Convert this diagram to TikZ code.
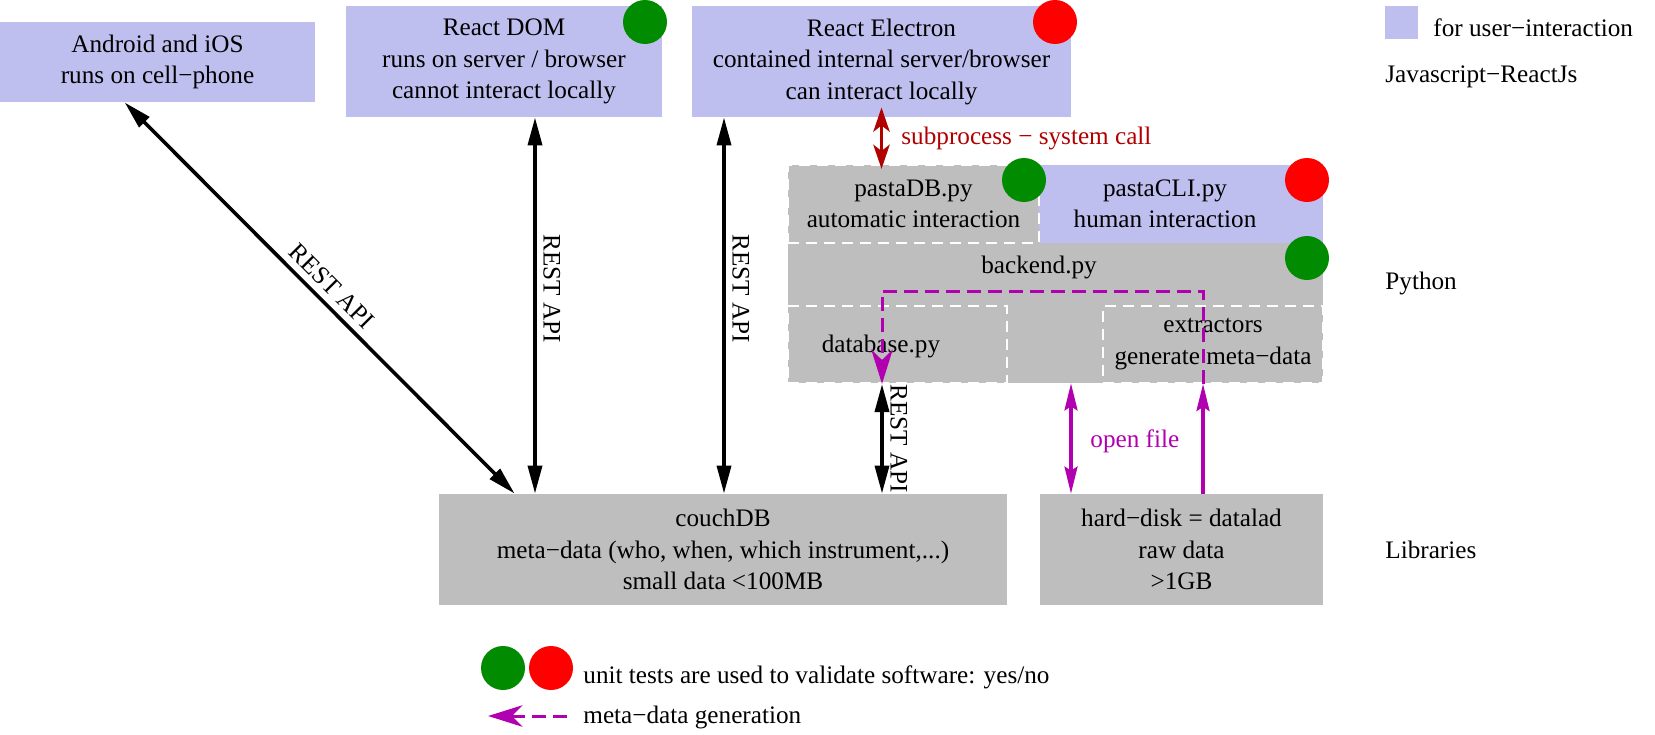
\documentclass[tikz,border=0pt]{standalone}
\usepackage{fontspec}
\setmainfont{Liberation Serif}
\usetikzlibrary{arrows.meta,calc}
\definecolor{userblue}{RGB}{191,191,239}
\definecolor{boxgray}{RGB}{190,190,190}
\definecolor{okgreen}{RGB}{0,139,0}
\definecolor{failred}{RGB}{255,0,0}
\definecolor{callred}{RGB}{176,0,0}
\definecolor{metamag}{RGB}{176,0,176}
\begin{document}
\begin{tikzpicture}[x=0.5pt,y=-0.5pt,
  every node/.append style={font=\fontsize{12.6}{15.75}\selectfont},
  userbox/.style={fill=userblue, draw=none, inner sep=0, align=center},
  graybox/.style={fill=boxgray, draw=none, inner sep=0, align=center},
  dashbox/.style={graybox, draw=white, line width=1pt, dash pattern=on 5.5pt off 3.5pt},
  okdot/.style={circle, fill=okgreen, inner sep=0, minimum size=22pt},
  faildot/.style={circle, fill=failred, inner sep=0, minimum size=22pt},
  txt/.style={anchor=west, inner sep=0},
  restarrow/.style={line width=1.8pt, {Triangle[length=14pt,width=7pt]}-{Triangle[length=14pt,width=7pt]}},
  callarrow/.style={draw=callred, line width=1.8pt, {Stealth[length=12pt,width=8pt,inset=3pt,fill=white,line width=2.2pt]}-{Stealth[length=12pt,width=8pt,inset=3pt,fill=white,line width=2.2pt]}},
  filearrow/.style={draw=metamag, line width=1.6pt, {Stealth[length=13.5pt,width=6.5pt,inset=2pt]}-{Stealth[length=13.5pt,width=6.5pt,inset=2pt]}},
  extarrow/.style={draw=metamag, line width=1.6pt, -{Stealth[length=13.5pt,width=6.5pt,inset=2pt]}},
  metaflow/.style={draw=metamag, line width=1.5pt, dash pattern=on 7pt off 3.5pt, -{Stealth[length=17pt,width=10.5pt,inset=5pt,fill=white,line width=2.6pt]}}
]
\useasboundingbox (0,0) rectangle (1655,734);

% JavaScript layer
\node[userbox, minimum width=157.5pt, minimum height=40pt] (android) at (157.5,62) {Android and iOS\\runs on cell−phone};
\node[userbox, minimum width=158pt, minimum height=55.5pt] (dom) at (504,61.5) {React DOM\\runs on server / browser\\cannot interact locally};
\node[userbox, minimum width=189.5pt, minimum height=55.5pt] (electron) at (881.5,61.5) {React Electron\\contained internal server/browser\\can interact locally};
\node[okdot] (domdot) at (645,22) {};
\node[faildot] (eldot) at (1055,22) {};

% Python layer
\node[graybox, minimum width=267.5pt, minimum height=70pt] (backend) at (1055.5,313) {};
\node[inner sep=0] (backendtxt) at (1039,267) {backend.py};
\node[userbox, minimum width=142pt, minimum height=39pt] (pastacli) at (1181,204) {};
\node[align=center, inner sep=0] (pastaclitxt) at (1165,204) {pastaCLI.py\\human interaction};
\node[dashbox, minimum width=125.5pt, minimum height=39pt] (pastadb) at (913.5,204) {pastaDB.py\\automatic interaction};
\node[dashbox, minimum width=109.5pt, minimum height=38.5pt] (database) at (897.5,344.5) {};
\node[inner sep=0] (databasetxt) at (881,346) {database.py};
\node[dashbox, minimum width=110pt, minimum height=38.5pt, font=\fontsize{12.6}{16}\selectfont] (extractors) at (1213,344.5) {extractors\\generate meta−data};
\node[okdot] (pdbdot) at (1024,180) {};
\node[faildot] (clidot) at (1307,180) {};
\node[okdot] (backdot) at (1307,258) {};

% Libraries layer
\node[graybox, minimum width=284pt, minimum height=55.5pt] (couch) at (723,549.5) {couchDB\\meta−data (who, when, which instrument,...)\\small data <100MB};
\node[graybox, minimum width=141.5pt, minimum height=55.5pt] (disk) at (1181.5,549.5) {hard−disk = datalad\\raw data\\>1GB};

% right-hand legend
\node[fill=userblue, inner sep=0, minimum size=16.5pt] (lgsq) at (1401.5,22.5) {};
\node[txt] (lgsqtxt) at (1433,28) {for user−interaction};
\node[txt] (js) at (1385,77) {Javascript−ReactJs};
\node[txt] (py) at (1385,283) {Python};
\node[txt] (libs) at (1385,550) {Libraries};

% connectors
\draw[restarrow] ([xshift=62.5pt]android.south west) -- ([xshift=38pt]couch.north west)
  node[midway, sloped, above] (restA) {REST API};
\draw[restarrow] ([xshift=15.5pt]dom.south) -- ([xshift=15.5pt]dom.south |- couch.north)
  node[pos=0.456, sloped, above] (restB) {REST API};
\draw[restarrow] ([xshift=-78.75pt]electron.south) -- ([xshift=-78.75pt]electron.south |- couch.north)
  node[pos=0.456, sloped, above] (restC) {REST API};
\draw[callarrow] ([yshift=5pt]electron.south) -- ([yshift=-2.5pt]electron.south |- pastadb.north);
\node[txt, text=callred] (subproc) at (901,138) {subprocess − system call};
\draw[restarrow] ([xshift=-7.75pt]database.south) -- ([xshift=-7.75pt]database.south |- couch.north)
  node[midway, sloped, above] (restD) {REST API};
\draw[filearrow] ([xshift=-55.25pt]disk.north) -- ([xshift=-55.25pt]disk.north |- backend.south);
\node[txt, text=metamag] (openfile) at (1090,441) {open file};
\draw[extarrow] ([xshift=10.75pt]disk.north) -- ([xshift=10.75pt]disk.north |- extractors.south);
\draw[metaflow] ([xshift=-5pt]extractors.south) -- ++(0,-93) -| ([xshift=-7.75pt]database.south);

% bottom legend
\node[okdot] (lgok) at (503,668) {};
\node[faildot] (lgfail) at (551,668) {};
\node[txt] (lgtests) at (583,677) {unit tests are used to validate software: yes/no};
\coordinate (lgA) at (567,716);
\coordinate (lgB) at (488,716);
\draw[metaflow] (lgA) -- (lgB);
\node[txt] (lgmeta) at (583,717) {meta−data generation};
\end{tikzpicture}
\end{document}
